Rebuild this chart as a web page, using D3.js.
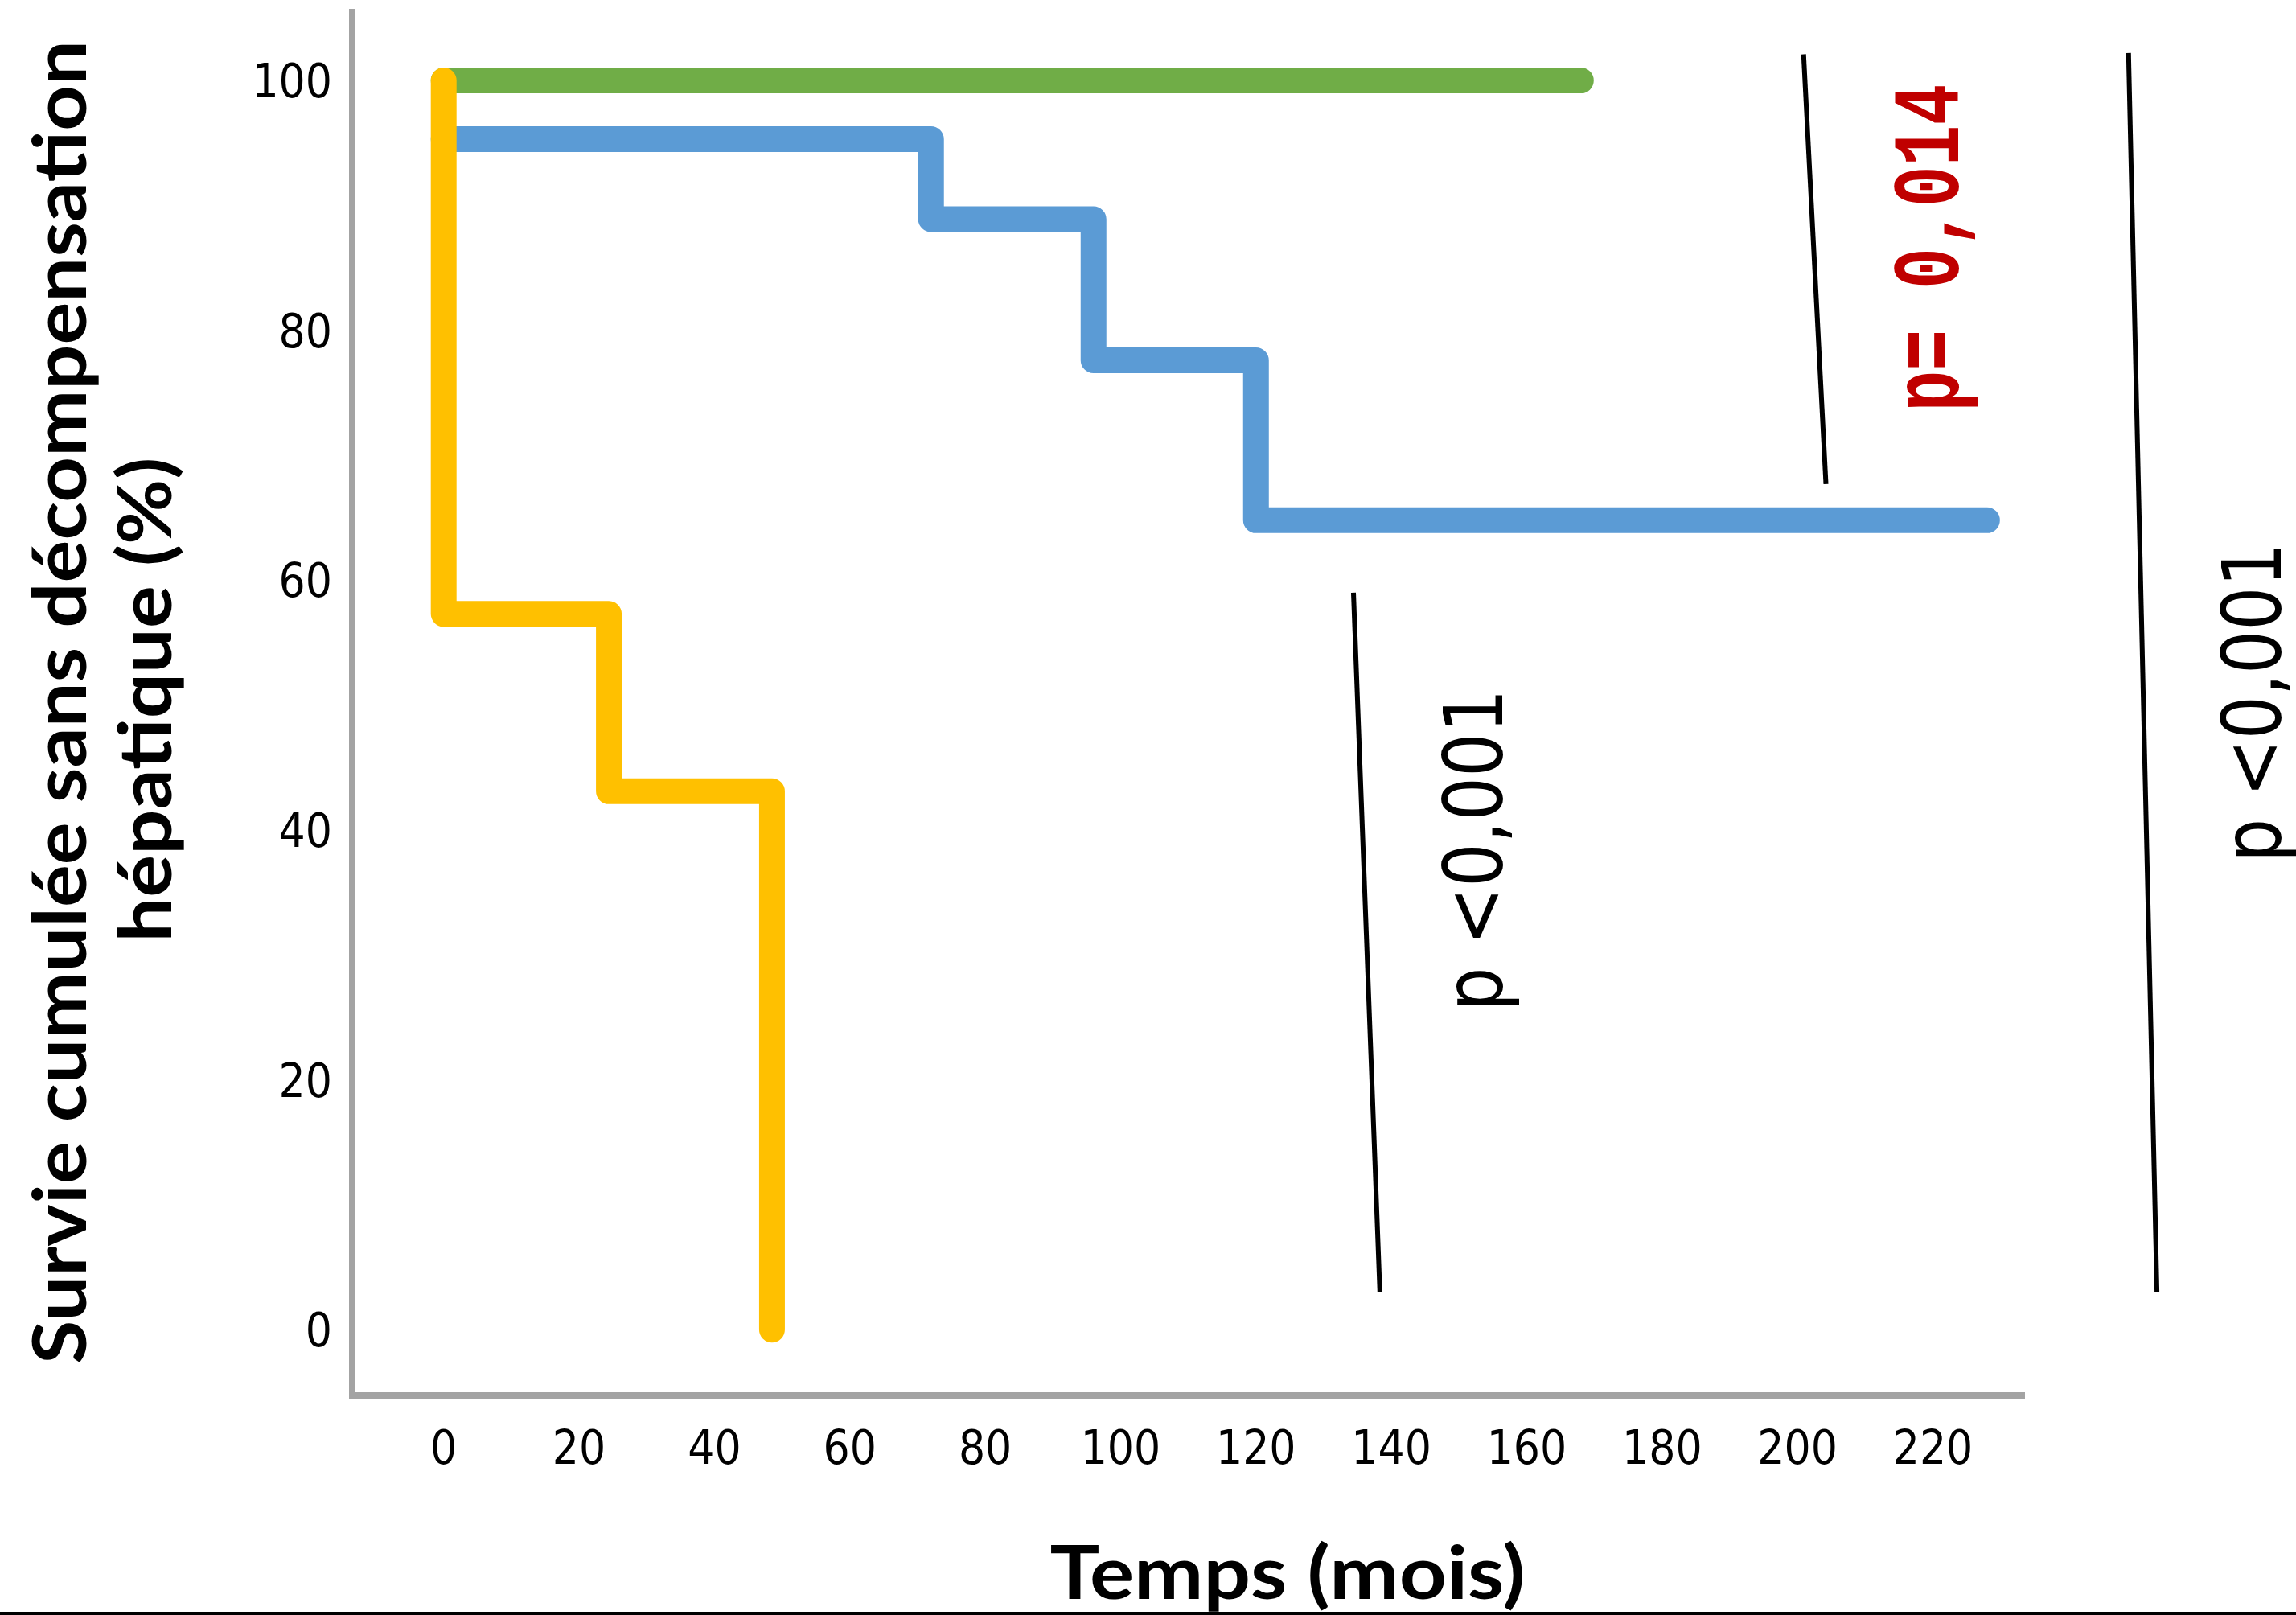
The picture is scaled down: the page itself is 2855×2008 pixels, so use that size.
<!DOCTYPE html>
<html>
<head>
<meta charset="utf-8">
<script src="https://cdn.jsdelivr.net/npm/d3@7"></script>
<style>
  body { margin: 0; background: #fff; }
  svg { display: block; }
</style>
</head>
<body>
<div id="chart-area"></div>
<script>
// Kaplan-Meier curves (time in months, survival in %)
var greenTimes = [0, 168];
var greenSurv = [100, 100];
var blueTimes = [0, 72, 96, 120, 228];
var blueSurv = [95.3, 88.9, 77.6, 64.8, 64.8];
var yellowTimes = [0, 0, 24.4, 48.5];
var yellowSurv = [100, 57.3, 43.1, 0];

var xTicks = [0, 20, 40, 60, 80, 100, 120, 140, 160, 180, 200, 220];
var yTicks = [0, 20, 40, 60, 80, 100];

// brackets and p-values (in data units)
var pLines = [
    {x1: 200.9, y1: 102.1, x2: 204.2, y2: 67.7},
    {x1: 134.4, y1: 59.0, x2: 138.3, y2: 3.0},
    {x1: 248.9, y1: 102.2, x2: 253.1, y2: 3.0}
];
var pLabels = ["p= 0,014", "p <0,001", "p <0,001"];
var pLabelX = [223.8, 156.4, 271.4];
var pLabelY = [86.6, 38.4, 50.2];

var W = 2855, H = 2008;

var svg = d3.select("#chart-area")
    .append("svg")
        .attr("width", W)
        .attr("height", H);

var x = d3.scaleLinear()
    .domain([0, 220])
    .range([551.7, 2403.5]);

var y = d3.scaleLinear()
    .domain([0, 100])
    .range([1653.3, 100.1]);

// axes (plain gray lines, no tick marks)
svg.append("line")
    .attr("x1", 438).attr("x2", 438)
    .attr("y1", 11).attr("y2", 1739)
    .attr("stroke", "#a3a3a3")
    .attr("stroke-width", 8);
svg.append("line")
    .attr("x1", 434).attr("x2", 2518)
    .attr("y1", 1735).attr("y2", 1735)
    .attr("stroke", "#a3a3a3")
    .attr("stroke-width", 8);

svg.selectAll(".ytick")
        .data(yTicks)
    .enter()
        .append("text")
        .attr("class", "ytick")
        .attr("x", 413)
        .attr("y", function(d){ return y(d) + 21; })
        .attr("text-anchor", "end")
        .attr("font-family", "DejaVu Sans Condensed, DejaVu Sans")
        .attr("font-stretch", "condensed")
        .attr("font-size", 58)
        .text(function(d){ return d; });

svg.selectAll(".xtick")
        .data(xTicks)
    .enter()
        .append("text")
        .attr("class", "xtick")
        .attr("x", function(d){ return x(d); })
        .attr("y", 1820)
        .attr("text-anchor", "middle")
        .attr("font-family", "DejaVu Sans Condensed, DejaVu Sans")
        .attr("font-stretch", "condensed")
        .attr("font-size", 58)
        .text(function(d){ return d; });

// survival curves
var line = d3.line()
    .x(function(d){ return x(d[0]); })
    .y(function(d){ return y(d[1]); })
    .curve(d3.curveStepAfter);

var curves = [
    {t: greenTimes, s: greenSurv, color: "#70ad47"},
    {t: blueTimes, s: blueSurv, color: "#5b9bd5"},
    {t: yellowTimes, s: yellowSurv, color: "#ffc000"}
];

curves.forEach(function(c){
    var pts = c.t.map(function(t, i){ return [t, c.s[i]]; });
    svg.append("path")
        .attr("d", line(pts))
        .attr("fill", "none")
        .attr("stroke", c.color)
        .attr("stroke-width", 32)
        .attr("stroke-linecap", "round")
        .attr("stroke-linejoin", "round");
});

// brackets
svg.selectAll(".pline")
        .data(pLines)
    .enter()
        .append("line")
        .attr("x1", function(d){ return x(d.x1); })
        .attr("y1", function(d){ return y(d.y1); })
        .attr("x2", function(d){ return x(d.x2); })
        .attr("y2", function(d){ return y(d.y2); })
        .attr("stroke", "#000")
        .attr("stroke-width", 6);

// p-values, rotated
var pStyle = [
    {family: "Liberation Mono", weight: "bold", size: 118, color: "#c00000", len: 407},
    {family: "DejaVu Sans", weight: "normal", size: 102, color: "#000", len: 401},
    {family: "DejaVu Sans", weight: "normal", size: 102, color: "#000", len: 397}
];
pLabels.forEach(function(txt, i){
    var px = x(pLabelX[i]), py = y(pLabelY[i]);
    svg.append("text")
        .attr("transform", "translate(" + px + "," + py + ") rotate(-90)")
        .attr("text-anchor", "middle")
        .attr("font-family", pStyle[i].family)
        .attr("font-weight", pStyle[i].weight)
        .attr("font-size", pStyle[i].size)
        .attr("fill", pStyle[i].color)
        .attr("textLength", pStyle[i].len)
        .attr("lengthAdjust", "spacingAndGlyphs")
        .text(txt);
});

// axis titles
svg.append("text")
    .attr("transform", "translate(107,873) rotate(-90)")
    .attr("text-anchor", "middle")
    .attr("font-family", "Lato")
    .attr("font-weight", "bold")
    .attr("font-size", 92)
    .attr("textLength", 1646)
    .attr("lengthAdjust", "spacingAndGlyphs")
    .text("Survie cumulée sans décompensation");
svg.append("text")
    .attr("transform", "translate(213,870) rotate(-90)")
    .attr("text-anchor", "middle")
    .attr("font-family", "Lato")
    .attr("font-weight", "bold")
    .attr("font-size", 92)
    .attr("textLength", 603)
    .attr("lengthAdjust", "spacingAndGlyphs")
    .text("hépatique (%)");

svg.append("text")
    .attr("x", 1601)
    .attr("y", 1988)
    .attr("text-anchor", "middle")
    .attr("font-family", "Lato")
    .attr("font-weight", "bold")
    .attr("font-size", 91)
    .attr("textLength", 591)
    .attr("lengthAdjust", "spacingAndGlyphs")
    .text("Temps (mois)");

// thin rule along the bottom edge
svg.append("line")
    .attr("x1", 0).attr("x2", W)
    .attr("y1", 2006).attr("y2", 2006)
    .attr("stroke", "#000")
    .attr("stroke-width", 4);
</script>
</body>
</html>
